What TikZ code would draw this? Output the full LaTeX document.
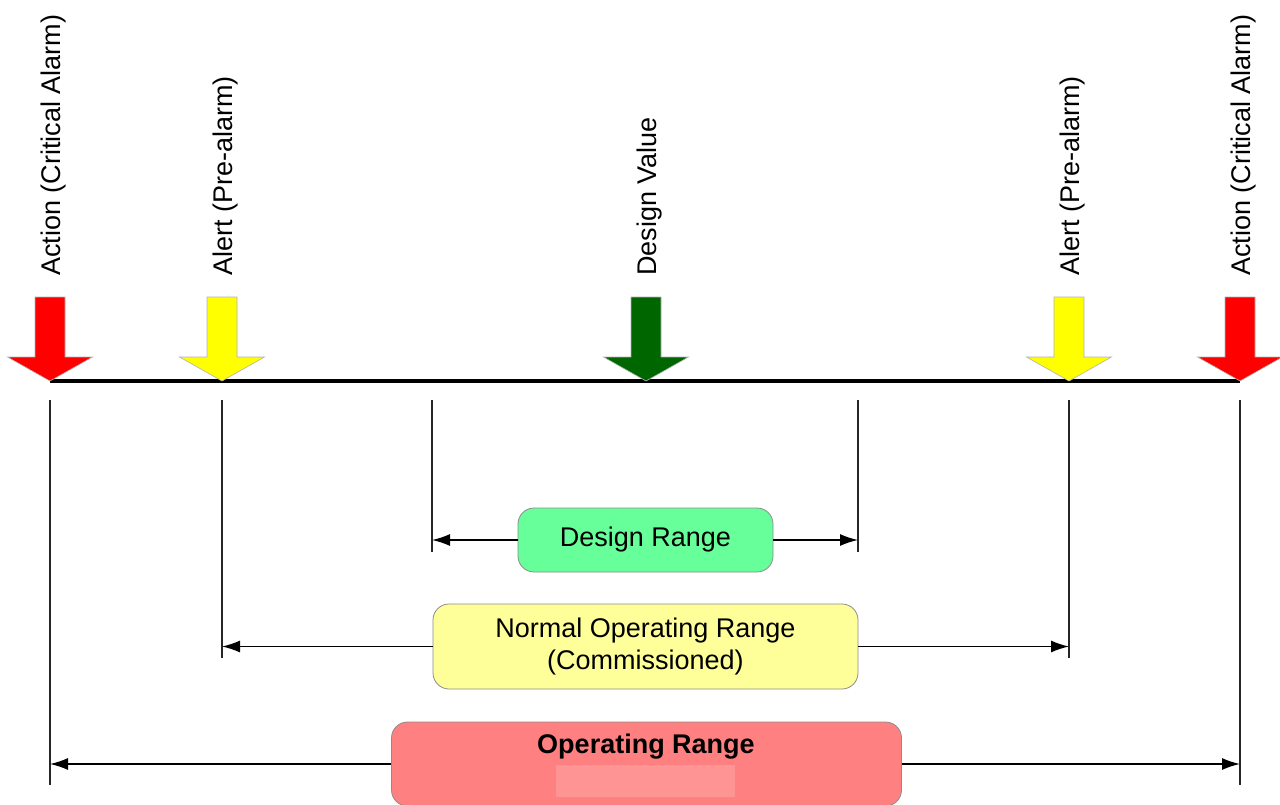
\documentclass[tikz,border=0pt]{standalone}
\usepackage{fontspec}
\setmainfont{Liberation Sans}
\usetikzlibrary{arrows.meta}
\definecolor{cRed}{HTML}{FF0000}
\definecolor{cYel}{HTML}{FFFF00}
\definecolor{cGrn}{HTML}{006600}
\definecolor{bGrn}{HTML}{66FF99}
\definecolor{bYel}{HTML}{FFFF99}
\definecolor{bRed}{HTML}{FF8080}
\definecolor{bRedL}{HTML}{FF9494}
\newcommand\blockarr[3]{%
  \filldraw[barrow,fill=#2] (#1-15,297) -- (#1+15,297) -- (#1+15,357) -- (#1+42.5,357) -- (#1,381) -- (#1-42.5,357) -- (#1-15,357) -- cycle;
  \coordinate (#3) at (#1,381);}
\begin{document}
\begin{tikzpicture}[x=1pt,y=-1pt,
  lbl/.style={rotate=90,anchor=west,inner sep=0pt,font=\fontsize{27}{32}\selectfont},
  tickline/.style={line width=1.3pt,black!85},
  rng/.style={line width=1.4pt,-{Latex[length=18pt,width=12pt]}},
  rbox/.style={draw=black!45,line width=0.8pt,rounded corners=16pt,inner sep=0pt,align=center,font=\fontsize{27}{32}\selectfont},
  barrow/.style={draw=black!30,line width=0.6pt}]
\useasboundingbox (0,0) rectangle (1280,805);
% main scale line
\coordinate (mL) at (50,381);
\coordinate (mR) at (1240,381);
\draw[line width=4pt] (mL) -- (mR);
% block arrows
\blockarr{50}{cRed}{aL}
\blockarr{222}{cYel}{yL}
\blockarr{646}{cGrn}{gC}
\blockarr{1069}{cYel}{yR}
\blockarr{1240}{cRed}{aR}
% labels
\node[lbl] (lAL) at (53.5,276) {Action (Critical Alarm)};
\node[lbl] (lYL) at (225.5,276) {Alert (Pre-alarm)};
\node[lbl] (lGC) at (649.5,276) {Design Value};
\node[lbl] (lYR) at (1072.5,276) {Alert (Pre-alarm)};
\node[lbl] (lAR) at (1243.5,276) {Action (Critical Alarm)};
% tick lines
\coordinate (t1a) at (50,400);   \coordinate (t1b) at (50,785);
\coordinate (t2a) at (222,400);  \coordinate (t2b) at (222,658);
\coordinate (t3a) at (432,400);  \coordinate (t3b) at (432,552);
\coordinate (t4a) at (858,400);  \coordinate (t4b) at (858,552);
\coordinate (t5a) at (1069,400); \coordinate (t5b) at (1069,658);
\coordinate (t6a) at (1240,400); \coordinate (t6b) at (1240,785);
\foreach \i in {1,...,6} {\draw[tickline] (t\i a) -- (t\i b);}
% range boxes
\node[rbox,fill=bGrn,minimum width=255pt,minimum height=64pt] (dr) at (645.5,540) {Design Range};
\node[rbox,fill=bYel,minimum width=425pt,minimum height=85pt] (nr) at (645.5,646.5) {Normal Operating Range\\(Commissioned)};
\node[rbox,fill=bRed,minimum width=510pt,minimum height=84pt] (orb) at (646.5,764) {};
\fill[bRedL] (556,765) rectangle (735,797);
\node[inner sep=0pt,font=\fontsize{27}{32}\selectfont\bfseries] (ort) at (646,747) {Operating Range};
% range connectors
\draw[rng] (dr.west) -- (t3b |- dr.west);
\draw[rng] (dr.east) -- (t4b |- dr.east);
\draw[rng] (nr.west) -- (t2b |- nr.west);
\draw[rng] (nr.east) -- (t5b |- nr.east);
\draw[rng] (orb.west) -- (t1b |- orb.west);
\draw[rng] (orb.east) -- (t6b |- orb.east);
\end{tikzpicture}
\end{document}
